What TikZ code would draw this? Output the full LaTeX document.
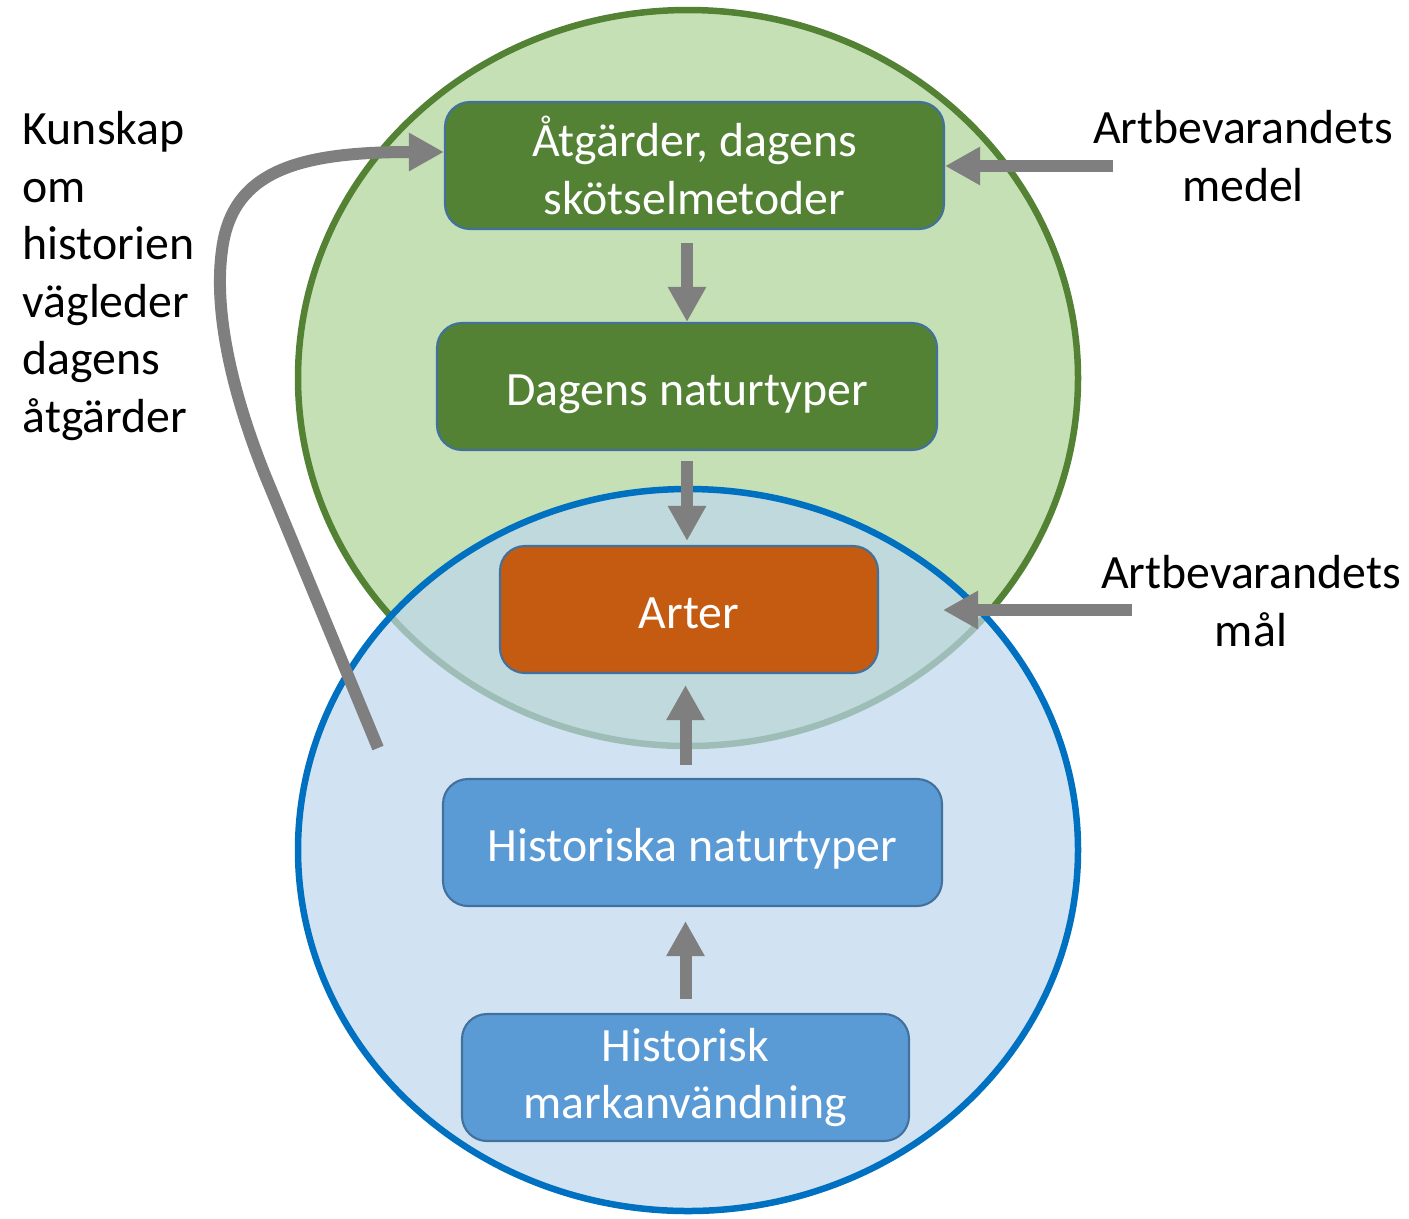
\documentclass[tikz,border=0pt]{standalone}
\usepackage{fontspec}
\setmainfont{Carlito}
\definecolor{leafGreen}{RGB}{84, 130, 53}
\definecolor{paleGreen}{RGB}{197, 224, 180}
\definecolor{skyBlue}{RGB}{91, 155, 213}
\definecolor{paleBlue}{RGB}{189, 215, 238}
\definecolor{deepBlue}{RGB}{0, 112, 192}
\definecolor{rustOrange}{RGB}{197, 90, 17}
\definecolor{edgeBlue}{RGB}{65, 113, 156}
\definecolor{arrowGray}{RGB}{127, 127, 127}
\usetikzlibrary{arrows.meta,positioning,calc}
\tikzset{
  stageBox/.style={draw=edgeBlue, line width=0.6pt, rounded corners=0.25cm,
    minimum height=1.27cm, inner sep=0pt, text=white, align=center,
    font=\fontsize{13.6}{16.4}\selectfont},
  oneLine/.style={text height=0.37cm, text depth=0pt},
  sideText/.style={inner sep=0pt, font=\fontsize{13.6}{16.4}\selectfont},
  bigArrow/.style={draw=arrowGray, line width=0.12cm,
    -{Triangle[width=0.36cm,length=0.35cm]}}
}
\begin{document}
\begin{tikzpicture}
                \useasboundingbox (0,0) rectangle (14.09,-12.18);
                % Present-day circle
                \draw[leafGreen,fill=paleGreen,line width=0.065cm] (6.88,-3.78) ellipse [x radius=3.90, y radius=3.68];
                % Historical circle
                \draw[deepBlue,fill=paleBlue,fill opacity=0.7,line width=0.065cm] (6.88,-8.50) ellipse [x radius=3.90, y radius=3.61];
                % Boxes
                \node[stageBox,fill=leafGreen,minimum width=4.99cm] (act) at (6.945,-1.655) {Åtgärder, dagens\\skötselmetoder};
                \node[stageBox,oneLine,fill=leafGreen,minimum width=5.00cm] (nowTypes) at (6.87,-3.865) {Dagens naturtyper};
                \node[stageBox,oneLine,fill=rustOrange,minimum width=3.78cm] (species) at (6.89,-6.095) {Arter};
                \node[stageBox,oneLine,fill=skyBlue,minimum width=4.99cm] (histTypes) at (6.925,-8.425) {Historiska naturtyper};
                \node[stageBox,fill=skyBlue,minimum width=4.47cm] (landUse) at (6.855,-10.775) {Historisk\\markanvändning};
                % Side labels
                \node[sideText,align=left,anchor=west] (lesson) at (0.22,-2.76) {Kunskap\\om\\historien\\vägleder\\dagens\\åtgärder};
                \node[sideText,align=center] (meansText) at (12.43,-1.56) {Artbevarandets\\medel};
                \node[sideText,align=center] (goalText) at (12.51,-6.01) {Artbevarandets\\mål};
                % Vertical arrows
                \draw[bigArrow,shorten <=0.13cm] (act.south -| nowTypes.north) -- (nowTypes.north);
                \draw[bigArrow,shorten <=0.10cm,shorten >=0.04cm] (nowTypes.south) -- (nowTypes.south |- species.north);
                \draw[bigArrow,shorten <=0.13cm,shorten >=0.11cm] (histTypes.north -| landUse.north) -- (landUse.north |- species.south);
                \draw[bigArrow,shorten <=0.14cm,shorten >=0.14cm] (landUse.north) -- (landUse.north |- histTypes.south);
                % Arrows from the right
                \coordinate (meansTail) at (11.13,-1.66);
                \draw[bigArrow] (meansTail) -- (meansTail -| act.east);
                \coordinate (goalTail) at (11.32,-6.10);
                \coordinate (goalTip) at (9.43,-6.10);
                \draw[bigArrow] (goalTail) -- (goalTip);
                % Knowledge loop
                \coordinate (lessonStart) at (3.78,-7.48);
                \draw[bigArrow] (lessonStart) -- (2.65,-4.75) .. controls (2.25,-3.75) and (2.15,-3.00) .. (2.22,-2.50)
                    .. controls (2.32,-1.70) and (3.00,-1.52) .. ([yshift=0.135cm]act.west);
            \end{tikzpicture}
\end{document}
